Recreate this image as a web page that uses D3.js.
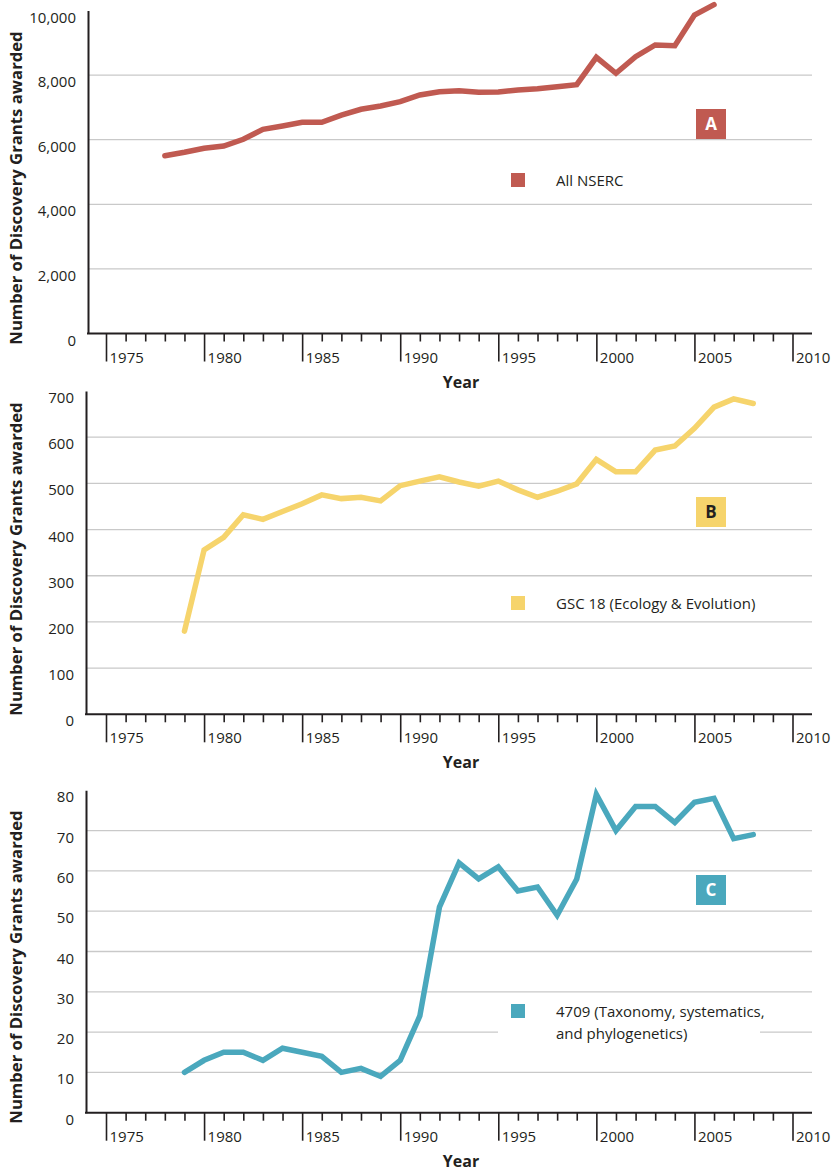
<!DOCTYPE html>
<html>
<head>
<meta charset="utf-8">
<script src="https://cdn.jsdelivr.net/npm/d3@7"></script>
<style>
    body { margin: 0; background: #fff; overflow: hidden; }
    svg { display: block; }
    svg text { font-family: "Open Sans", sans-serif; fill: #231f20; }
</style>
</head>
<body>
<div id="chart"></div>
<script>
// values
const yearsA = [1978, 1979, 1980, 1981, 1982, 1983, 1984, 1985, 1986, 1987, 1988, 1989, 1990, 1991, 1992,
    1993, 1994, 1995, 1996, 1997, 1998, 1999, 2000, 2001, 2002, 2003, 2004, 2005, 2006];
const grantsA = [5505, 5610, 5734, 5805, 6012, 6322, 6424, 6539, 6539, 6760, 6941, 7043, 7176, 7384, 7486,
    7517, 7467, 7477, 7539, 7579, 7641, 7703, 8551, 8056, 8570, 8932, 8910, 9861, 10180];

const yearsB = [1979, 1980, 1981, 1982, 1983, 1984, 1985, 1986, 1987, 1988, 1989, 1990, 1991, 1992, 1993,
    1994, 1995, 1996, 1997, 1998, 1999, 2000, 2001, 2002, 2003, 2004, 2005, 2006, 2007, 2008];
const grantsB = [180, 356, 383, 432, 422, 439, 456, 475, 467, 470, 462, 495, 505, 514, 503,
    494, 505, 486, 470, 483, 499, 552, 525, 525, 572, 581, 619, 665, 683, 673];

const yearsC = [1979, 1980, 1981, 1982, 1983, 1984, 1985, 1986, 1987, 1988, 1989, 1990, 1991, 1992, 1993,
    1994, 1995, 1996, 1997, 1998, 1999, 2000, 2001, 2002, 2003, 2004, 2005, 2006, 2007, 2008];
const grantsC = [10, 13, 15, 15, 13, 16, 15, 14, 10, 11, 9, 13, 24, 51, 62,
    58, 61, 55, 56, 49, 58, 79, 70, 76, 76, 72, 77, 78, 68, 69];

const ticksA = [0, 2000, 4000, 6000, 8000, 10000];
const ticksB = [0, 100, 200, 300, 400, 500, 600, 700];
const ticksC = [0, 10, 20, 30, 40, 50, 60, 70, 80];

const majorYears = [1975, 1980, 1985, 1990, 1995, 2000, 2005, 2010];
const minorYears = [1976, 1977, 1978, 1979, 1981, 1982, 1983, 1984, 1986, 1987, 1988, 1989, 1991, 1992, 1993, 1994,
    1996, 1997, 1998, 1999, 2001, 2002, 2003, 2004, 2006, 2007, 2008, 2009];

const legendA = ["All NSERC"];
const legendB = ["GSC 18 (Ecology & Evolution)"];
const legendC = ["4709 (Taxonomy, systematics,", "and phylogenetics)"];

document.addEventListener("DOMContentLoaded", function () {
    const width = 834, height = 1172;
    const gridRight = 812;

    const panels = [
        { years: yearsA, values: grantsA, ticks: ticksA, legend: legendA, letter: "A", color: "#c05a51", letterColor: "#fff",
          top: 10.5, bottom: 333.5, axisX: 88, legendY: 173, boxY: 109, titleY: 188, fmt: d3.format(",") },
        { years: yearsB, values: grantsB, ticks: ticksB, legend: legendB, letter: "B", color: "#f6d46c", letterColor: "#231f20",
          top: 391, bottom: 714.3, axisX: 86, legendY: 596, boxY: 497, titleY: 559, fmt: d3.format("d") },
        { years: yearsC, values: grantsC, ticks: ticksC, legend: legendC, letter: "C", color: "#4aa8bd", letterColor: "#fff",
          top: 790.3, bottom: 1112.7, axisX: 86, legendY: 1004, boxY: 875, titleY: 967, fmt: d3.format("d") }
    ];

    const svg = d3.select("#chart")
        .append("svg")
        .attr("width", width)
        .attr("height", height);

    const x = d3.scaleLinear()
        .domain([1975, 2010])
        .range([106, 792.5]);

    panels.forEach(p => {
        const maxV = p.ticks[p.ticks.length - 1];
        const y = d3.scaleLinear()
            .domain([0, maxV])
            .range([p.bottom, p.top]);

        const g = svg.append("g");

        // grid lines (no line at 0 or at the top value)
        g.selectAll(".grid")
            .data(p.ticks.filter(t => t > 0 && t < maxV))
            .enter()
            .append("line")
            .attr("x1", p.axisX)
            .attr("x2", gridRight)
            .attr("y1", d => y(d))
            .attr("y2", d => y(d))
            .attr("stroke", "#c9c9c9")
            .attr("stroke-width", 1.3);

        // legend, white box hides gridline under it
        const lg = g.append("g");
        if (p.legend.length > 1) {
            lg.append("rect")
                .attr("x", 498)
                .attr("y", p.legendY - 4)
                .attr("width", 262)
                .attr("height", 48)
                .attr("fill", "#fff");
        }
        lg.append("rect")
            .attr("x", 511)
            .attr("y", p.legendY)
            .attr("width", 14)
            .attr("height", 14)
            .attr("fill", p.color);
        lg.selectAll(".legtext")
            .data(p.legend)
            .enter()
            .append("text")
            .attr("x", 556)
            .attr("y", (d, i) => p.legendY + 12.5 + i * 22)
            .style("font-size", "15px")
            .text(d => d);

        // letter badge
        g.append("rect")
            .attr("x", 696)
            .attr("y", p.boxY)
            .attr("width", 30)
            .attr("height", 30)
            .attr("fill", p.color);
        g.append("text")
            .attr("x", 711)
            .attr("y", p.boxY + 21)
            .attr("text-anchor", "middle")
            .style("font-size", "17px")
            .style("font-weight", "bold")
            .style("fill", p.letterColor)
            .text(p.letter);

        // data line
        const line = d3.line()
            .x((d, i) => x(p.years[i]))
            .y(d => y(d));
        g.append("path")
            .datum(p.values)
            .attr("d", line)
            .attr("fill", "none")
            .attr("stroke", p.color)
            .attr("stroke-width", 5.5)
            .attr("stroke-linecap", "round")
            .attr("stroke-linejoin", "miter");

        // y axis
        const yAxis = g.append("g")
            .attr("transform", `translate(${p.axisX},0)`)
            .call(d3.axisLeft(y)
                .tickValues(p.ticks)
                .tickFormat(p.fmt)
                .tickSize(0)
                .tickSizeOuter(0)
                .tickPadding(12));
        yAxis.select(".domain").attr("stroke", "#231f20").attr("stroke-width", 2);
        yAxis.selectAll("text")
            .attr("dy", "11.5px")
            .style("font-size", "15px")
            .style("fill", "#231f20");

        // x axis: baseline, major and minor ticks
        g.append("line")
            .attr("x1", p.axisX - 1)
            .attr("x2", gridRight)
            .attr("y1", p.bottom)
            .attr("y2", p.bottom)
            .attr("stroke", "#231f20")
            .attr("stroke-width", 2);

        const xMinor = g.append("g")
            .attr("transform", `translate(0,${p.bottom})`)
            .call(d3.axisBottom(x).tickValues(minorYears).tickSize(8).tickFormat(""));
        xMinor.select(".domain").remove();
        xMinor.selectAll("line").attr("stroke", "#231f20").attr("stroke-width", 1.6);

        const xMajor = g.append("g")
            .attr("transform", `translate(0,${p.bottom})`)
            .call(d3.axisBottom(x).tickValues(majorYears).tickSize(28).tickFormat(d3.format("d")));
        xMajor.select(".domain").remove();
        xMajor.selectAll("line").attr("stroke", "#231f20").attr("stroke-width", 1.6);
        xMajor.selectAll("text")
            .attr("x", 3)
            .attr("y", 29)
            .attr("dy", 0)
            .attr("text-anchor", "start")
            .style("font-size", "15px")
            .style("fill", "#231f20");

        // axis titles
        g.append("text")
            .attr("transform", `translate(22,${p.titleY}) rotate(-90)`)
            .attr("text-anchor", "middle")
            .style("font-size", "16.7px")
            .style("font-weight", "bold")
            .text("Number of Discovery Grants awarded");

        g.append("text")
            .attr("x", 461)
            .attr("y", p.bottom + 54)
            .attr("text-anchor", "middle")
            .style("font-size", "16px")
            .style("font-weight", "bold")
            .text("Year");
    });
});
</script>
</body>
</html>
